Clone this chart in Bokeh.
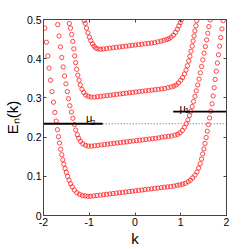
from bokeh.plotting import figure
from bokeh.models import Range1d, LinearAxis, FixedTicker, CustomJSTickFormatter, Label
from bokeh.embed import file_html
from bokeh.resources import INLINE

# ---- data ----
band1_k = [-1.97, -1.936, -1.907, -1.88, -1.845, -1.815, -1.782, -1.752, -1.722, -1.695, -1.672, -1.65,
           -1.625, -1.60, -1.578, -1.555, -1.53, -1.502, -1.474, -1.442, -1.408, -1.37, -1.325, -1.27,
           -1.21, -1.15, -1.09,
           -1.03, -0.97, -0.90, -0.83, -0.76, -0.69, -0.62, -0.55, -0.48, -0.41, -0.34, -0.27, -0.20,
           -0.13, -0.06, 0.01, 0.08, 0.15, 0.22, 0.29, 0.36, 0.43, 0.50, 0.57, 0.64, 0.71, 0.78, 0.85,
           0.92, 0.98, 1.04,
           1.10, 1.16, 1.21, 1.26, 1.31, 1.355, 1.39, 1.425, 1.455, 1.48, 1.505, 1.53, 1.555, 1.58,
           1.605, 1.63, 1.655, 1.685, 1.708, 1.73, 1.753, 1.777, 1.80, 1.825, 1.85, 1.875, 1.90, 1.928]
band1_e = [0.478, 0.442, 0.407, 0.376, 0.345, 0.316, 0.289, 0.263, 0.241, 0.219, 0.201, 0.185,
           0.169, 0.155, 0.142, 0.131, 0.120, 0.110, 0.100, 0.090, 0.081, 0.073, 0.065, 0.058,
           0.054, 0.051, 0.050,
           0.049, 0.049, 0.050, 0.051, 0.052, 0.053, 0.054, 0.055, 0.056, 0.057, 0.058, 0.059, 0.060,
           0.061, 0.062, 0.063, 0.064, 0.065, 0.066, 0.067, 0.068, 0.069, 0.070, 0.071, 0.072, 0.073,
           0.074, 0.075, 0.077, 0.078, 0.080,
           0.082, 0.086, 0.090, 0.096, 0.103, 0.111, 0.121, 0.132, 0.144, 0.157, 0.170, 0.184, 0.199,
           0.215, 0.232, 0.249, 0.266, 0.285, 0.305, 0.326, 0.347, 0.368, 0.389, 0.410, 0.432, 0.454,
           0.476, 0.497]

band2_k = [-1.69, -1.66, -1.63, -1.60, -1.57, -1.54, -1.51, -1.48, -1.455, -1.425, -1.39, -1.358,
           -1.325, -1.295, -1.262, -1.23, -1.19, -1.14, -1.08,
           -1.02, -0.95, -0.88, -0.81, -0.74, -0.67, -0.60, -0.53, -0.46, -0.39, -0.32, -0.25, -0.18,
           -0.11, -0.04, 0.03, 0.10, 0.17, 0.24, 0.31, 0.38, 0.45, 0.52, 0.59, 0.66, 0.73, 0.80, 0.87,
           0.93,
           0.985, 1.035, 1.08, 1.12, 1.155, 1.19, 1.22, 1.25, 1.28, 1.31, 1.34, 1.37, 1.40, 1.428,
           1.455, 1.482, 1.51, 1.538, 1.565, 1.59, 1.615, 1.64]
band2_e = [0.487, 0.458, 0.430, 0.403, 0.379, 0.356, 0.336, 0.316, 0.298, 0.280, 0.264, 0.248,
           0.232, 0.218, 0.206, 0.197, 0.189, 0.183, 0.179,
           0.177, 0.177, 0.178, 0.179, 0.180, 0.181, 0.182, 0.183, 0.184, 0.185, 0.186, 0.187, 0.188,
           0.189, 0.190, 0.191, 0.192, 0.193, 0.194, 0.195, 0.196, 0.197, 0.198, 0.200, 0.201, 0.202,
           0.203, 0.205, 0.207,
           0.211, 0.217, 0.225, 0.234, 0.244, 0.255, 0.266, 0.278, 0.291, 0.304, 0.318, 0.333, 0.348,
           0.364, 0.380, 0.397, 0.414, 0.431, 0.448, 0.465, 0.482, 0.499]

band3_k = [-1.435, -1.41, -1.385, -1.36, -1.338, -1.318, -1.298, -1.275, -1.25, -1.222, -1.195,
           -1.16, -1.12, -1.075, -1.02,
           -0.96, -0.89, -0.82, -0.75, -0.68, -0.61, -0.54, -0.47, -0.40, -0.33, -0.26, -0.19, -0.12,
           -0.05, 0.02, 0.09, 0.16, 0.23, 0.30, 0.37, 0.44, 0.51, 0.58, 0.65, 0.72, 0.79, 0.85,
           0.90, 0.95, 1.00, 1.04, 1.08, 1.115, 1.145, 1.175, 1.20, 1.225, 1.25, 1.27, 1.29, 1.31,
           1.33, 1.35]
band3_e = [0.490, 0.478, 0.462, 0.444, 0.425, 0.407, 0.390, 0.373, 0.358, 0.345, 0.333,
           0.322, 0.314, 0.307, 0.304,
           0.302, 0.302, 0.303, 0.304, 0.305, 0.306, 0.307, 0.308, 0.309, 0.310, 0.311, 0.312, 0.313,
           0.314, 0.315, 0.316, 0.317, 0.318, 0.319, 0.320, 0.321, 0.322, 0.323, 0.324, 0.326, 0.328,
           0.330,
           0.333, 0.338, 0.345, 0.352, 0.361, 0.371, 0.382, 0.394, 0.406, 0.419, 0.432, 0.445, 0.458,
           0.471, 0.484, 0.497]

band4_k = [-1.11, -1.088, -1.06, -1.03, -0.997, -0.965, -0.93, -0.895, -0.858,
           -0.81, -0.75, -0.69, -0.62, -0.55, -0.48, -0.41, -0.34, -0.27, -0.20, -0.13, -0.06, 0.01,
           0.08, 0.15, 0.22, 0.29, 0.36, 0.43, 0.50, 0.57, 0.63, 0.69, 0.74,
           0.79, 0.84, 0.885, 0.925, 0.96, 0.99, 1.015]
band4_e = [0.497, 0.490, 0.478, 0.466, 0.455, 0.446, 0.438, 0.432, 0.427,
           0.425, 0.424, 0.425, 0.426, 0.427, 0.428, 0.429, 0.430, 0.431, 0.432, 0.433, 0.434, 0.435,
           0.436, 0.437, 0.438, 0.439, 0.440, 0.441, 0.443, 0.445, 0.447, 0.449, 0.451,
           0.455, 0.460, 0.467, 0.475, 0.484, 0.492, 0.500]

mu1_level = 0.265
mu1_k = [0.835, 2.0]
mu2_level = 0.234
mu2_k = [-2.0, -0.707]
dotted_k = [-0.707, 2.0]

x_ticks = [-2, -1, 0, 1, 2]
y_ticks = [0, 0.1, 0.2, 0.3, 0.4, 0.5]
x_title = "k"
y_title = "E\u2099(k)"

# ---- figure ----
AX = "#444444"
FONT = "Liberation Sans"

p = figure(width=249, height=249, x_range=Range1d(-2, 2), y_range=Range1d(0, 0.5),
           output_backend="svg", toolbar_location=None,
           min_border_left=37, min_border_right=23, min_border_top=19, min_border_bottom=33)
p.xgrid.visible = False
p.ygrid.visible = False
p.outline_line_color = AX
p.outline_line_width = 1
p.background_fill_color = "white"
p.border_fill_color = "white"

fmt = CustomJSTickFormatter(code="return String(Math.round(tick*10)/10);")
blank = CustomJSTickFormatter(code="return '';")

def style_axis(ax, labels=True):
    ax.axis_line_color = AX
    ax.major_tick_line_color = AX
    ax.major_tick_in = 3
    ax.major_tick_out = 0
    ax.minor_tick_line_color = None
    ax.major_label_text_font = FONT
    ax.major_label_text_font_size = "10.5px" if labels else "0px"
    ax.major_label_text_color = "black"
    ax.major_label_standoff = 2 if labels else 0
    ax.axis_label_text_font = FONT
    ax.axis_label_text_font_style = "normal"
    ax.axis_label_text_font_size = "15px"
    ax.axis_label_text_color = "black"

p.xaxis.ticker = FixedTicker(ticks=x_ticks)
p.yaxis.ticker = FixedTicker(ticks=y_ticks)
p.xaxis.formatter = fmt
p.yaxis.formatter = fmt
style_axis(p.xaxis[0])
style_axis(p.yaxis[0])
p.xaxis.axis_label = x_title
p.yaxis.axis_label = y_title
p.xaxis.axis_label_standoff = 1
p.yaxis.axis_label_standoff = 3

top = LinearAxis(ticker=FixedTicker(ticks=x_ticks), formatter=blank)
right = LinearAxis(ticker=FixedTicker(ticks=y_ticks), formatter=blank)
style_axis(top, False)
style_axis(right, False)
p.add_layout(top, "above")
p.add_layout(right, "right")

# bands
for ks, es in [(band1_k, band1_e), (band2_k, band2_e), (band3_k, band3_e), (band4_k, band4_e)]:
    p.scatter(ks, es, marker="circle", size=4.3, fill_color=None, line_color="#ff1a1a", line_width=0.8)

# chemical potential lines
p.line(dotted_k, [mu2_level, mu2_level], line_color="#666666", line_width=1.2, line_dash="1 2")
p.line(mu2_k, [mu2_level, mu2_level], line_color="black", line_width=1.8)
p.line(mu1_k, [mu1_level, mu1_level], line_color="black", line_width=1.8)

def kx(px):
    return -2 + (px - 37) / 47.25

def ey(py):
    return (216 - py) / 394

def lab(x, y, t, size):
    p.add_layout(Label(x=x, y=y, text=t, text_align="left",
                       text_baseline="alphabetic", text_font=FONT,
                       text_font_size=size, text_color="black"))

# mu labels
lab(kx(81), ey(118), "\u03bc", "11px")
lab(kx(86), ey(122.3), "2", "8px")
lab(kx(177.5), ey(108.3), "\u03bc", "11px")
lab(kx(183), ey(110.5), "1", "8px")

open("out.html", "w").write(file_html(p, INLINE))
